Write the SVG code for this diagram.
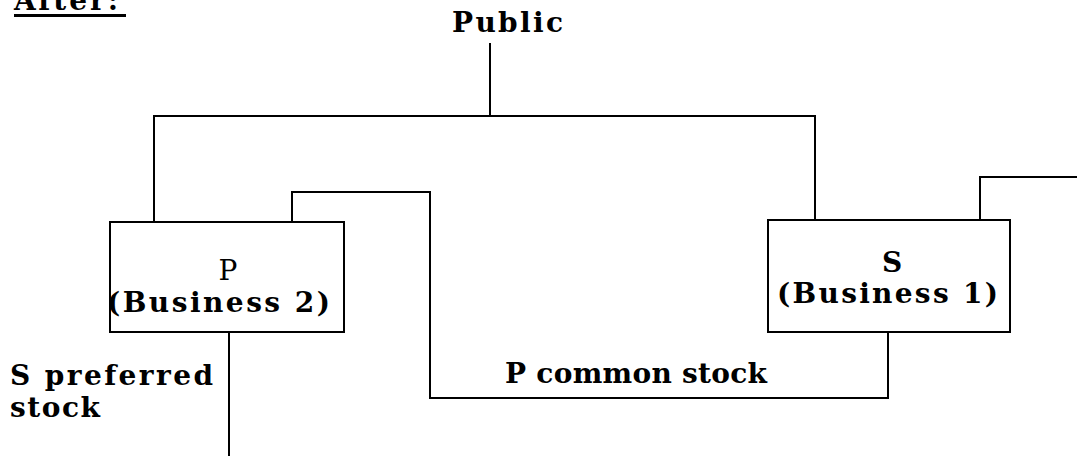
<svg xmlns="http://www.w3.org/2000/svg" width="1077" height="456" viewBox="0 0 1077 456">
<style>
.t{font-family:"DejaVu Serif","Liberation Serif",serif;font-size:28px;font-weight:bold;fill:#000}
.n{font-weight:normal}
.ln{fill:none;stroke:#000;stroke-width:2}
.box{fill:#fff;stroke:#000;stroke-width:2}
</style>
<rect width="1077" height="456" fill="#fff"/>
<g id="title">
<text class="t" x="14" y="10" textLength="104" lengthAdjust="spacing">After:</text>
<line x1="14" y1="15.5" x2="126" y2="15.5" stroke="#000" stroke-width="3"/>
</g>
<g id="connectors">
<polyline class="ln" points="490,43 490,116"/>
<polyline class="ln" points="154,222 154,116 815,116 815,222"/>
<polyline class="ln" points="292,222 292,192 430,192 430,398 888,398 888,332"/>
<polyline class="ln" points="980,220 980,177 1077,177"/>
<polyline class="ln" points="229,332 229,456"/>
</g>
<g id="public">
<text class="t" x="452" y="32" textLength="111" lengthAdjust="spacing">Public</text>
</g>
<g id="nodeP">
<rect class="box" x="110" y="222" width="234" height="110"/>
<text class="t n" x="228" y="280" text-anchor="middle">P</text>
<text class="t" x="107" y="312" textLength="223" lengthAdjust="spacing">(Business 2)</text>
</g>
<g id="nodeS">
<rect class="box" x="768" y="220" width="242" height="112"/>
<text class="t" x="892" y="272" text-anchor="middle">S</text>
<text class="t" x="777" y="303" textLength="221" lengthAdjust="spacing">(Business 1)</text>
</g>
<g id="labelCommon">
<text class="t" x="505" y="383" textLength="262" lengthAdjust="spacing">P common stock</text>
</g>
<g id="labelPreferred">
<text class="t" x="10" y="385" textLength="203" lengthAdjust="spacing">S preferred</text>
<text class="t" x="10" y="417" textLength="90" lengthAdjust="spacing">stock</text>
</g>
</svg>
